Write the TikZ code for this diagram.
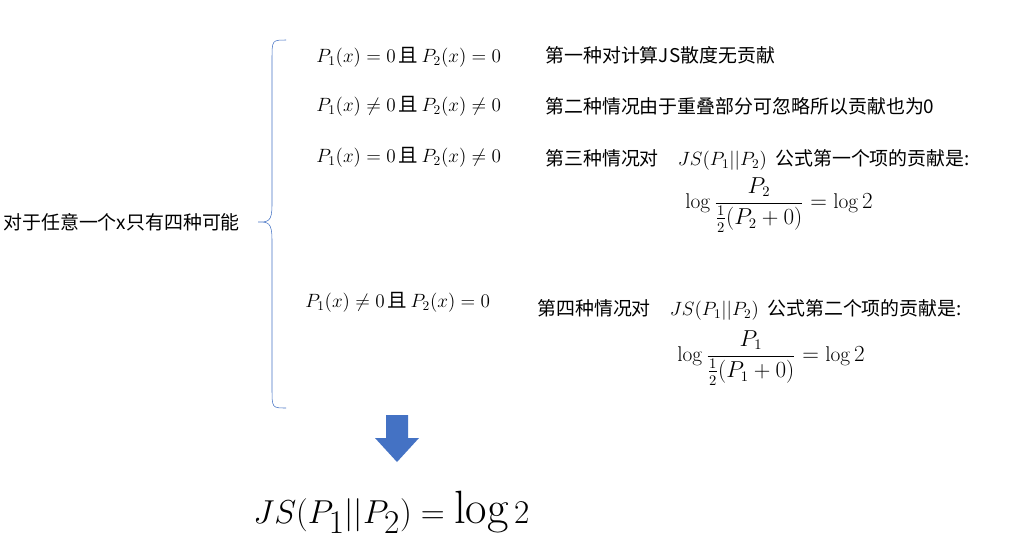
\documentclass[tikz,border=0pt]{standalone}
\usepackage{amsmath}
\usepackage{fontspec}
\newfontfamily\cjk{Noto Sans CJK SC}
\begin{document}
\begin{tikzpicture}[x=0.75pt,y=-0.75pt,
  cn/.style={anchor=west,inner sep=0pt,font=\cjk\fontsize{14.2}{16}\selectfont},
  mt/.style={anchor=west,inner sep=0pt,font=\fontsize{14.6}{16}\selectfont}]
\useasboundingbox (0,0) rectangle (1009,540);
\fill[white] (0,0) rectangle (1009,540);
\node[cn] (L) at (3,222) {对于任意一个x只有四种可能};
\draw[color={rgb,255:red,68;green,114;blue,196}] (286,40) .. controls (272,40) and (272,40) .. (272,60) -- (272,205) .. controls (272,222) and (268,222) .. (258,222) .. controls (268,222) and (272,222) .. (272,240) -- (272,388) .. controls (272,408) and (272,408) .. (286,408);
\node[mt] (a1) at (316,57) {$P_1(x)=0\,\text{\cjk 且}\,P_2(x)=0$};
\node[mt] (a2) at (316,106) {$P_1(x)\neq0\,\text{\cjk 且}\,P_2(x)\neq0$};
\node[mt] (a3) at (316,157) {$P_1(x)=0\,\text{\cjk 且}\,P_2(x)\neq0$};
\node[mt] (a4) at (305,302) {$P_1(x)\neq0\,\text{\cjk 且}\,P_2(x)=0$};
\node[cn] (b1) at (545,55) {第一种对计算JS散度无贡献};
\node[cn] (b2) at (545,106) {第二种情况由于重叠部分可忽略所以贡献也为0};
\node[cn] (b3) at (545,160) {第三种情况对\quad\rmfamily$JS(P_1||P_2)$\cjk\ \ 公式第一个项的贡献是:};
\node[mt,font=\fontsize{16}{18}\selectfont] (c3) at (685,205) {$\log\dfrac{P_2}{\frac12(P_2+0)}=\log2$};
\node[cn] (b4) at (537,310) {第四种情况对\quad\rmfamily$JS(P_1||P_2)$\cjk\ \ 公式第二个项的贡献是:};
\node[mt,font=\fontsize{16}{18}\selectfont] (c4) at (677,358) {$\log\dfrac{P_1}{\frac12(P_1+0)}=\log2$};
\fill[color={rgb,255:red,68;green,114;blue,196}] (386,415) -- (408,415) -- (408,438) -- (419,438) -- (397,462) -- (375,438) -- (386,438) -- cycle;
\node[anchor=west,inner sep=0pt,font=\fontsize{35}{38}\selectfont] (R) at (253,512) {$JS(P_1||P_2)=\log2$};
\end{tikzpicture}
\end{document}
